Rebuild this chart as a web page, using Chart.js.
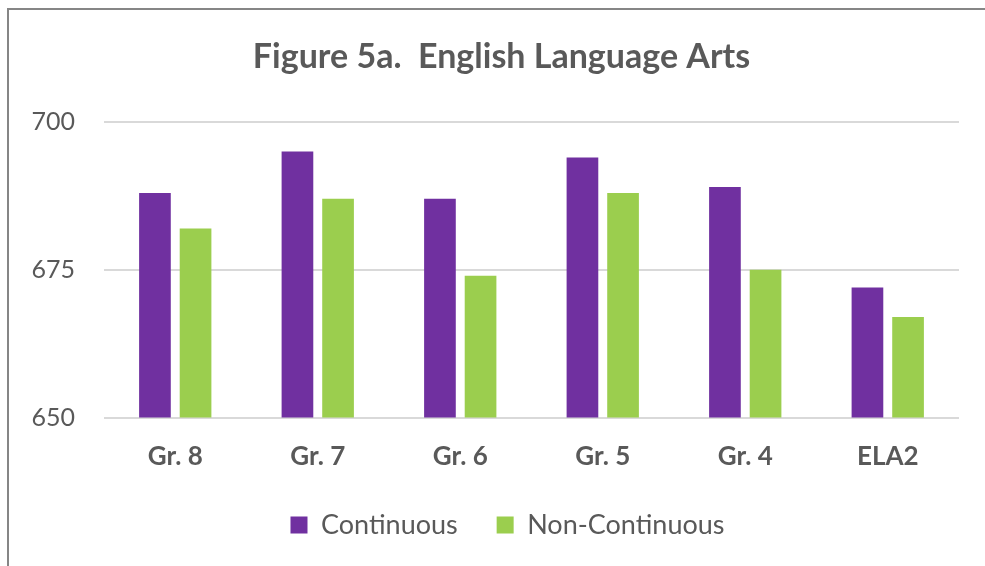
<!DOCTYPE html>
<html>
<head>
<meta charset="utf-8">
<script src="https://cdn.jsdelivr.net/npm/chart.js@4/dist/chart.umd.min.js"></script>
<style>
  html, body { margin: 0; padding: 0; background: #fff; }
  #wrap { position: relative; width: 985px; height: 566px; overflow: hidden; }
  #frame { position: absolute; left: 7px; top: 8px; width: 1000px; height: 600px;
           border-left: 2px solid #868686; border-top: 2px solid #868686; box-sizing: border-box; }
  canvas { position: absolute; left: 0; top: 0; }
</style>
</head>
<body>
<div id="wrap">
  <div id="frame"></div>
  <canvas id="c" width="985" height="566"></canvas>
</div>
<script>
const categories = ["Gr. 8", "Gr. 7", "Gr. 6", "Gr. 5", "Gr. 4", "ELA2"];
const continuous = [688, 695, 687, 694, 689, 672];
const nonContinuous = [682, 687, 674, 688, 675, 667];
const yTicks = [650, 675, 700];

const FONT = "Lato, 'Open Sans', sans-serif";
const TXT = "#595959";

// nudge title and legend horizontally to match the reference's centring
const nudge = {
  id: "nudge",
  afterLayout(chart) {
    if (chart.titleBlock) { chart.titleBlock.left += 12; chart.titleBlock.right += 12; }
    if (chart.legend) { chart.legend.left += 18; chart.legend.right += 18; }
  }
};

new Chart(document.getElementById("c"), {
  type: "bar",
  data: {
    labels: categories,
    datasets: [
      { label: "Continuous", data: continuous, backgroundColor: "#7030A0",
        categoryPercentage: 0.57, barPercentage: 0.78 },
      { label: "Non-Continuous", data: nonContinuous, backgroundColor: "#9BCE4E",
        categoryPercentage: 0.57, barPercentage: 0.78 }
    ]
  },
  plugins: [nudge],
  options: {
    responsive: false,
    animation: false,
    layout: { padding: { left: 20, right: 26, top: 36.6, bottom: 17.5 } },
    plugins: {
      title: { display: true, text: "Figure 5a.  English Language Arts", color: TXT,
               font: { family: FONT, size: 34, weight: "bold" }, padding: { top: 0, bottom: 44.6 } },
      legend: { position: "bottom",
                labels: { color: TXT, boxWidth: 17, boxHeight: 17, padding: 38.9,
                          font: { family: FONT, size: 27 } } },
      tooltip: { enabled: false }
    },
    scales: {
      x: {
        afterFit: (s) => { s.height = s.height - 23; },
        grid: { display: false, drawTicks: false },
        border: { display: false },
        ticks: { color: TXT, padding: 23.4, font: { family: FONT, size: 26, weight: "bold" } }
      },
      y: {
        min: 650, max: 700,
        afterBuildTicks: (s) => { s.ticks = yTicks.map(v => ({ value: v })); },
        afterFit: (s) => { s.width = 84; },
        grid: { color: "#d9d9d9", lineWidth: 2, drawTicks: false },
        border: { display: false },
        ticks: { color: TXT, padding: 29, font: { family: FONT, size: 25 } }
      }
    }
  }
});
</script>
</body>
</html>
